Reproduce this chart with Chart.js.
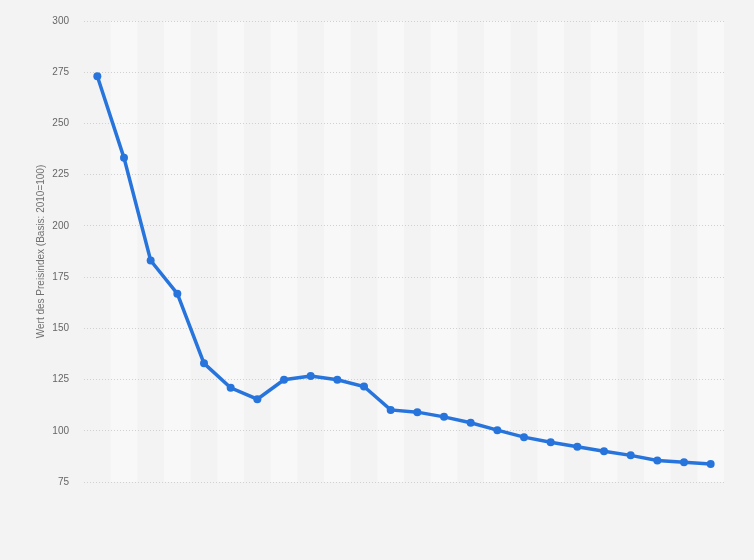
<!DOCTYPE html>
<html>
<head>
<meta charset="utf-8">
<script src="https://cdn.jsdelivr.net/npm/chart.js@4.4.0/dist/chart.umd.min.js"></script>
<style>
  html, body { margin: 0; padding: 0; background: #f3f3f3; }
  #wrap { width: 754px; height: 560px; position: relative; }
</style>
</head>
<body>
<div id="wrap"><canvas id="preisChart"></canvas></div>
<script>
// ===================================
// DATA
// ===================================
// 24 periods, no x labels shown in the original
const periods = [
    '1', '2', '3', '4', '5', '6', '7', '8', '9', '10', '11', '12',
    '13', '14', '15', '16', '17', '18', '19', '20', '21', '22', '23', '24'
];
const indexValues = [
    273.0, 233.2, 183.1, 166.9, 132.9, 121.0, 115.4, 124.9, 126.7, 124.9, 121.6, 110.2,
    109.1, 106.8, 103.9, 100.3, 96.9, 94.4, 92.2, 90.0, 88.0, 85.5, 84.6, 83.8
];
const yTicks = [75, 100, 125, 150, 175, 200, 225, 250, 275, 300];

// --- alternating column bands behind the line ---
const bandPlugin = {
    id: 'bands',
    beforeDraw(chart) {
        const { ctx, chartArea, scales } = chart;
        const x = scales.x;
        const half = (x.getPixelForValue(1) - x.getPixelForValue(0)) / 2;
        ctx.save();
        ctx.fillStyle = '#f8f8f8';
        for (let i = 1; i < periods.length; i += 2) {
            const cx = x.getPixelForValue(i);
            ctx.fillRect(cx - half, chartArea.top, half * 2, chartArea.bottom - chartArea.top);
        }
        ctx.restore();
    }
};

const config = {
    type: 'line',
    data: {
        labels: periods,
        datasets: [{
            label: 'Preisindex',
            data: indexValues,
            borderColor: '#2775dc',
            backgroundColor: '#2775dc',
            borderWidth: 3.5,
            pointRadius: 4,
            pointBorderWidth: 0,
            pointHoverRadius: 4,
            tension: 0,
            fill: false
        }]
    },
    options: {
        responsive: true,
        maintainAspectRatio: false,
        animation: false,
        layout: {
            padding: { left: 0, right: 30, top: 20, bottom: 78 }
        },
        plugins: {
            legend: { display: false },
            tooltip: { enabled: false }
        },
        scales: {
            x: {
                display: false,
                offset: true
            },
            y: {
                min: 75,
                max: 300,
                afterFit(scale) { scale.width = 84; },
                afterBuildTicks(scale) { scale.ticks = yTicks.map(v => ({ value: v })); },
                border: { display: false, dash: [1, 2] },
                grid: {
                    color: '#d0d0d0',
                    drawTicks: false,
                    tickLength: 0
                },
                ticks: {
                    padding: 15,
                    color: '#666666',
                    font: { family: 'Liberation Sans, Arial, sans-serif', size: 10 }
                },
                title: {
                    display: true,
                    text: 'Wert des Preisindex (Basis: 2010=100)',
                    color: '#707070',
                    padding: { top: 35, bottom: 0 },
                    font: { family: 'Liberation Sans, Arial, sans-serif', size: 10 }
                }
            }
        }
    },
    plugins: [bandPlugin]
};

const ctx = document.getElementById('preisChart').getContext('2d');
new Chart(ctx, config);
</script>
</body>
</html>
